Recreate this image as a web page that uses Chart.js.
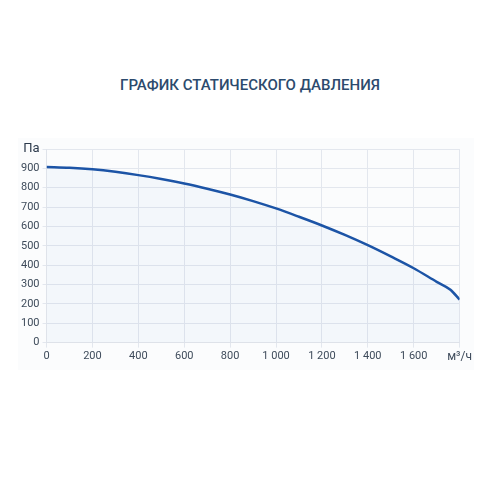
<!DOCTYPE html>
<html lang="ru">
<head>
  <meta charset="UTF-8">
  <title>График статического давления</title>
  <script src="https://cdn.jsdelivr.net/npm/chart.js"></script>
  <style>
    body { margin: 0; background: #fff; font-family: Roboto, sans-serif; }
    h2 {
      position: absolute; left: 0; top: 76px; width: 500px; margin: 0;
      text-align: center; font-size: 15px; font-weight: 500; color: #2c4a6d;
    }
    .box {
      position: absolute; left: 18px; top: 138px; width: 456px; height: 232px;
      background: #fbfcfd;
    }
  </style>
</head>
<body>
  <h2>ГРАФИК СТАТИЧЕСКОГО ДАВЛЕНИЯ</h2>
  <div class="box"><canvas id="pressureChart"></canvas></div>

  <script>
    // расход, м³/ч
    const flow = [0, 100, 200, 300, 400, 500, 600, 700, 800, 900, 1000, 1100, 1200, 1300, 1400, 1500, 1600, 1700, 1760, 1800];
    // статическое давление, Па
    const pressure = [907, 903, 895, 882, 865, 845, 822, 795, 765, 731, 693, 650, 605, 556, 503, 445, 384, 314, 273, 222];

    const xTicks = [0, 200, 400, 600, 800, 1000, 1200, 1400, 1600, 1800];
    const yTicks = [0, 100, 200, 300, 400, 500, 600, 700, 800, 900, 1000];

    const fmt = v => String(v).replace(/\B(?=(\d{3})+(?!\d))/g, ' ');

    const ctx = document.getElementById('pressureChart').getContext('2d');
    new Chart(ctx, {
      type: 'line',
      data: {
        datasets: [{
          data: flow.map((f, i) => ({ x: f, y: pressure[i] })),
          borderColor: '#1c54a6',
          borderWidth: 2.5,
          backgroundColor: 'rgba(40, 100, 190, 0.035)',
          fill: 'origin',
          pointRadius: 0,
          cubicInterpolationMode: 'monotone'
        }]
      },
      options: {
        responsive: true,
        maintainAspectRatio: false,
        animation: false,
        layout: { padding: { left: 0, right: 10, top: 11, bottom: 4 } },
        plugins: { legend: { display: false }, tooltip: { enabled: false } },
        scales: {
          x: {
            type: 'linear',
            min: 0, max: 1800,
            afterBuildTicks: axis => { axis.ticks = xTicks.map(v => ({ value: v })); },
            grid: { color: '#e3e7ee', tickLength: 5 },
            border: { color: '#dfe3ea' },
            ticks: {
              color: '#3e4b5b',
              maxRotation: 0,
              padding: 2,
              font: c => ({ family: 'Roboto', size: c.tick && c.tick.value === 1800 ? 12 : 11 }),
              callback: v => v === 1800 ? 'м³/ч' : fmt(v)
            }
          },
          y: {
            min: 0, max: 1000,
            afterBuildTicks: axis => { axis.ticks = yTicks.map(v => ({ value: v })); },
            grid: { color: '#e3e7ee', tickLength: 4 },
            border: { color: '#dfe3ea' },
            ticks: {
              color: c => c.tick && c.tick.value === 1000 ? '#2c3a4c' : '#3e4b5b',
              padding: 3,
              font: c => ({ family: 'Roboto', size: c.tick && c.tick.value === 1000 ? 13 : 11 }),
              callback: v => v === 1000 ? 'Па' : v
            }
          }
        }
      }
    });
  </script>
</body>
</html>
